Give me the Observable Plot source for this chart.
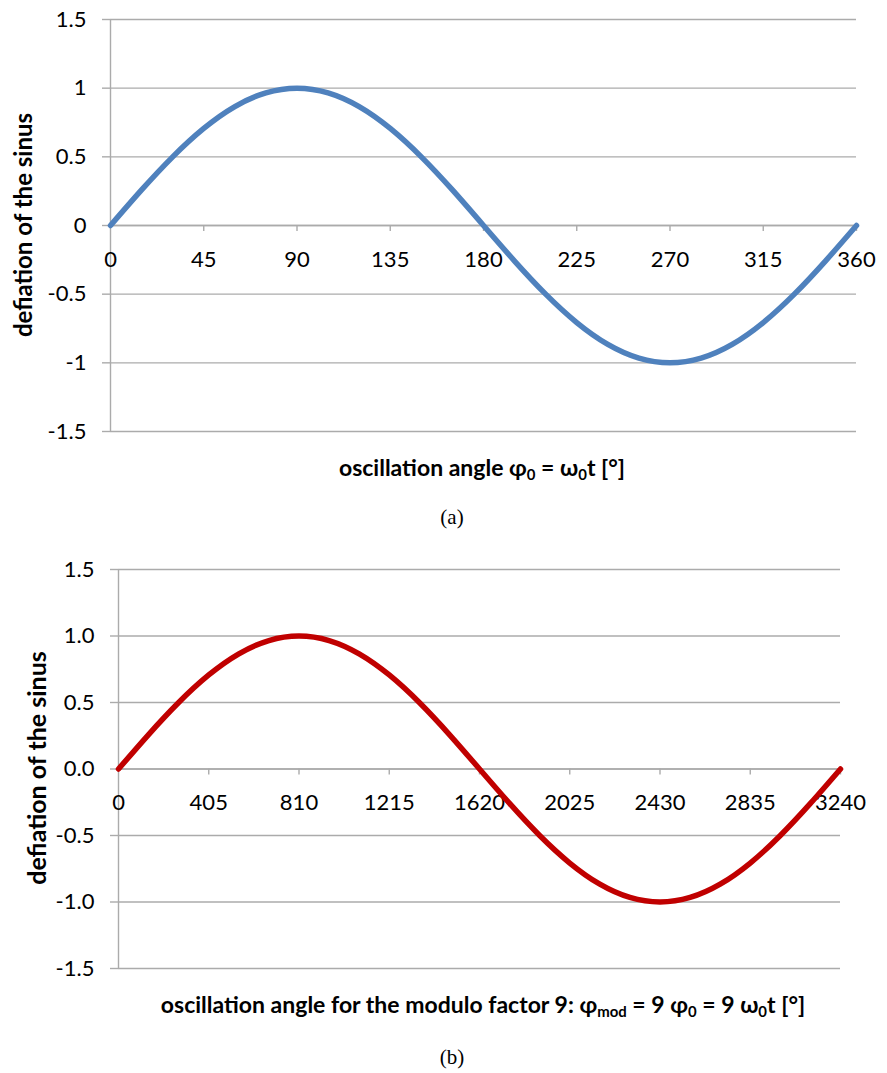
<!DOCTYPE html>
<html>
<head>
<meta charset="utf-8">
<script src="https://cdn.jsdelivr.net/npm/d3@7"></script>
<script src="https://cdn.jsdelivr.net/npm/@observablehq/plot@0.6"></script>
<style>
  html, body { margin: 0; padding: 0; background: #fff; }
  #wrap { position: relative; width: 887px; height: 1073px; overflow: hidden; font-family: Lato, "Open Sans", sans-serif; }
  .abs { position: absolute; line-height: 1.2; }
  .xtitle { font-weight: bold; color: #000; white-space: nowrap; transform: translate(-50%, -50%); }
  .xtitle sub { font-size: 0.65em; vertical-align: -0.28em; line-height: 0; }
  .ytitle { font-weight: bold; color: #000; white-space: nowrap; transform: translate(-50%, -50%) rotate(-90deg); }
  .cap { font-family: "Liberation Serif", "DejaVu Serif", serif; font-size: 21px; transform: translate(-50%, -50%); }
</style>
</head>
<body>
<div id="wrap"></div>
<script>
// ---- data (a) ----
const anglesA = [0, 15, 30, 45, 60, 75, 90, 105, 120, 135, 150, 165, 180, 195, 210, 225, 240, 255, 270, 285, 300, 315, 330, 345, 360];
const sinus = [0, 0.259, 0.5, 0.707, 0.866, 0.966, 1, 0.966, 0.866, 0.707, 0.5, 0.259, 0, -0.259, -0.5, -0.707, -0.866, -0.966, -1, -0.966, -0.866, -0.707, -0.5, -0.259, 0];
const xTicksA = [0, 45, 90, 135, 180, 225, 270, 315, 360];
// ---- data (b) ----
const anglesB = [0, 135, 270, 405, 540, 675, 810, 945, 1080, 1215, 1350, 1485, 1620, 1755, 1890, 2025, 2160, 2295, 2430, 2565, 2700, 2835, 2970, 3105, 3240];
const xTicksB = [0, 405, 810, 1215, 1620, 2025, 2430, 2835, 3240];
const yTicks = [-1.5, -1, -0.5, 0, 0.5, 1, 1.5];

const gridColor = "#ababab";
const tickFont = 22;

function chart({xs, ys, xTicks, xMax, color, yFormat, height, mt, mb, ml, mr, labelDy}) {
  const data = xs.map((x, i) => ({x, y: ys[i]}));
  return Plot.plot({
    width: 887,
    height,
    marginTop: mt, marginBottom: mb, marginLeft: ml, marginRight: mr,
    style: {fontFamily: "Lato, 'Open Sans', sans-serif", fontSize: tickFont + "px", color: "#000", background: "#fff"},
    x: {domain: [0, xMax], axis: null},
    y: {domain: [-1.5, 1.5], axis: null},
    marks: [
      Plot.gridY(yTicks, {stroke: gridColor, strokeOpacity: 1, strokeWidth: 1.4}),
      Plot.axisY(yTicks, {tickSize: 8, tickPadding: 16, stroke: gridColor, strokeOpacity: 1, strokeWidth: 1.4, tickFormat: yFormat, fontSize: tickFont, fill: "#000", label: null}),
      Plot.ruleX([0], {stroke: gridColor, strokeWidth: 1.4}),
      Plot.ruleY([0], {stroke: gridColor, strokeWidth: 1.6}),
      Plot.ruleX(xTicks.slice(1), {x: d => d, y1: 0, y2: 0, insetBottom: -6, stroke: gridColor, strokeWidth: 1.4}),
      Plot.text(xTicks, {x: d => d, y: 0, dy: labelDy, text: d => String(d), fontSize: tickFont, fill: "#000"}),
      Plot.line(data, {x: "x", y: "y", stroke: color, strokeWidth: 5.5, curve: "natural"})
    ]
  });
}

const wrap = document.getElementById("wrap");

const svgA = chart({xs: anglesA, ys: sinus, xTicks: xTicksA, xMax: 360, color: "#4f81bd",
  yFormat: d => String(d), height: 445, mt: 19, mb: 14, ml: 110, mr: 31, labelDy: 34});
svgA.style.position = "absolute"; svgA.style.left = "0px"; svgA.style.top = "0px";
wrap.appendChild(svgA);

const svgB = chart({xs: anglesB, ys: sinus, xTicks: xTicksB, xMax: 3240, color: "#c00000",
  yFormat: d => d.toFixed(1), height: 430, mt: 19, mb: 12, ml: 118, mr: 47, labelDy: 34});
svgB.style.position = "absolute"; svgB.style.left = "0px"; svgB.style.top = "550px";
wrap.appendChild(svgB);

function addDiv(cls, html, left, top, size) {
  const d = document.createElement("div");
  d.className = "abs " + cls;
  d.innerHTML = html;
  d.style.left = left + "px";
  d.style.top = top + "px";
  if (size) d.style.fontSize = size + "px";
  wrap.appendChild(d);
}
addDiv("ytitle", "defiation of the sinus", 23, 225, 24);
addDiv("xtitle", "oscillation angle φ<sub>0</sub> = ω<sub>0</sub>t [°]", 482, 468, 23);
addDiv("cap", "(a)", 452, 518);
addDiv("ytitle", "defiation of the sinus", 36, 768, 25);
addDiv("xtitle", "oscillation angle for the modulo factor 9: φ<sub>mod</sub> = 9 φ<sub>0</sub> = 9 ω<sub>0</sub>t [°]", 483, 1005, 23);
addDiv("cap", "(b)", 452, 1058);
</script>
</body>
</html>
